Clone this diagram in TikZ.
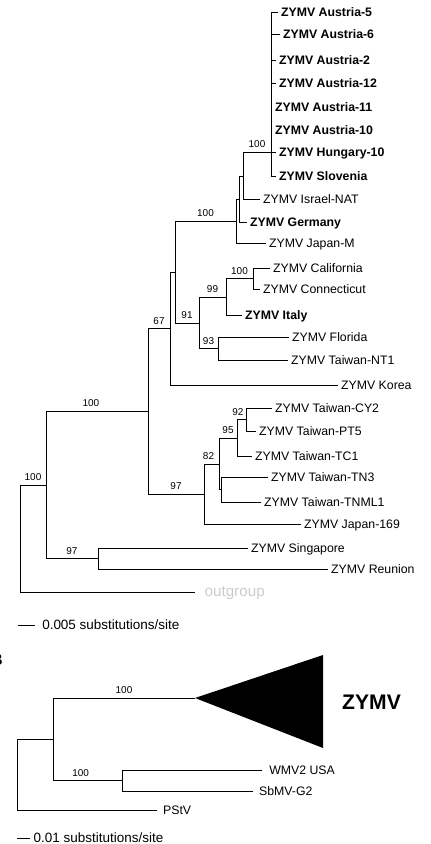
\documentclass[tikz,border=0pt]{standalone}
\usepackage{fontspec}
\setmainfont{Liberation Sans}
\begin{document}
\begin{tikzpicture}[x=0.03cm, y=-0.03cm,
    leaf/.style={anchor=west, inner xsep=2.5pt, inner ysep=0pt, text height=7.6pt, text depth=0pt, font=\fontsize{10.5}{12}\selectfont},
    bleaf/.style={leaf, font=\fontsize{10.5}{12}\selectfont\bfseries},
    outgrp/.style={leaf, inner xsep=8pt, text=gray!40, font=\fontsize{13}{13}\selectfont},
    boot/.style={above, pos=0.75, inner xsep=1pt, inner ysep=3.2pt, font=\fontsize{8.5}{9}\selectfont},
    branch/.style={line width=0.7pt},
    scaletext/.style={anchor=west, inner xsep=6pt, inner ysep=0pt, text height=8.2pt, text depth=0pt, font=\fontsize{11.5}{12}\selectfont}]
    \useasboundingbox (0,0) rectangle (431,844);

    % Leaves (A)
    \node[bleaf] (aus5) at (278,12) {ZYMV Austria-5};
    \node[bleaf] (aus6) at (280,34) {ZYMV Austria-6};
    \node[bleaf] (aus2) at (276,60) {ZYMV Austria-2};
    \node[bleaf] (aus12) at (276,83) {ZYMV Austria-12};
    \node[bleaf] (aus11) at (272,107) {ZYMV Austria-11};
    \node[bleaf] (aus10) at (272,130) {ZYMV Austria-10};
    \node[bleaf] (hun10) at (276,152) {ZYMV Hungary-10};
    \node[bleaf] (slo) at (276,176) {ZYMV Slovenia};
    \node[leaf] (isr) at (260,199) {ZYMV Israel-NAT};
    \node[bleaf] (ger) at (247,222) {ZYMV Germany};
    \node[leaf] (jpm) at (266,243) {ZYMV Japan-M};
    \node[leaf] (cal) at (270,268) {ZYMV California};
    \node[leaf] (con) at (260,289) {ZYMV Connecticut};
    \node[bleaf] (ita) at (242,315) {ZYMV Italy};
    \node[leaf] (flo) at (289,337) {ZYMV Florida};
    \node[leaf] (nt1) at (288,360) {ZYMV Taiwan-NT1};
    \node[leaf] (kor) at (338,385) {ZYMV Korea};
    \node[leaf] (cy2) at (272,408) {ZYMV Taiwan-CY2};
    \node[leaf] (pt5) at (256,431) {ZYMV Taiwan-PT5};
    \node[leaf] (tc1) at (252,456) {ZYMV Taiwan-TC1};
    \node[leaf] (tn3) at (268,477) {ZYMV Taiwan-TN3};
    \node[leaf] (tnml1) at (261,502) {ZYMV Taiwan-TNML1};
    \node[leaf] (jp169) at (301,524) {ZYMV Japan-169};
    \node[leaf] (sin) at (248,548) {ZYMV Singapore};
    \node[leaf] (reu) at (328,569) {ZYMV Reunion};
    \node[outgrp] (out) at (195,592) {outgroup};

    % Inner nodes (A)
    \coordinate (u) at (271,152);
    \coordinate (v) at (243,176);
    \coordinate (w) at (239,199);
    \coordinate (y) at (236,221);
    \coordinate (cc) at (253,278.5);
    \coordinate (n99) at (226,297);
    \coordinate (n93) at (218,348.5);
    \coordinate (n91) at (199,323);
    \coordinate (x) at (175,272);
    \coordinate (n67) at (170,328.5);
    \coordinate (n92) at (246,419.5);
    \coordinate (n95) at (237,438);
    \coordinate (tn) at (221,489.5);
    \coordinate (n82) at (219,464);
    \coordinate (n97a) at (204,494);
    \coordinate (n100b) at (148,411);
    \coordinate (n97b) at (98,558.5);
    \coordinate (n100a) at (46,485);
    \coordinate (root) at (20,538.5);

    % Edges (A)
    \foreach \lf in {aus5,aus6,aus2,aus12,aus11,aus10,hun10,slo}
        \draw[branch] (u) |- (\lf.west);
    \draw[branch] (v) |- node[boot] {100} (u);
    \draw[branch] (v) |- (isr.west);
    \draw[branch] (w) |- (v);
    \draw[branch] (w) |- (ger.west);
    \draw[branch] (y) |- (w);
    \draw[branch] (y) |- (jpm.west);
    \draw[branch] (cc) |- (cal.west);
    \draw[branch] (cc) |- (con.west);
    \draw[branch] (n99) |- node[boot] {100} (cc);
    \draw[branch] (n99) |- (ita.west);
    \draw[branch] (n93) |- (flo.west);
    \draw[branch] (n93) |- (nt1.west);
    \draw[branch] (n91) |- node[boot] {99} (n99);
    \draw[branch] (n91) |- node[boot] {93} (n93);
    \draw[branch] (x) |- node[boot] {100} (y);
    \draw[branch] (x) |- node[boot] {91} (n91);
    \draw[branch] (n67) |- (x);
    \draw[branch] (n67) |- (kor.west);
    \draw[branch] (n92) |- (cy2.west);
    \draw[branch] (n92) |- (pt5.west);
    \draw[branch] (n95) |- node[boot, pos=0.55] {92} (n92);
    \draw[branch] (n95) |- (tc1.west);
    \draw[branch] (tn) |- (tn3.west);
    \draw[branch] (tn) |- (tnml1.west);
    \draw[branch] (n82) |- node[boot] {95} (n95);
    \draw[branch] (n82) |- (tn);
    \draw[branch] (n97a) |- node[boot, pos=0.65] {82} (n82);
    \draw[branch] (n97a) |- (jp169.west);
    \draw[branch] (n100b) |- node[boot] {67} (n67);
    \draw[branch] (n100b) |- node[boot] {97} (n97a);
    \draw[branch] (n97b) |- (sin.west);
    \draw[branch] (n97b) |- (reu.west);
    \draw[branch] (n100a) |- node[boot, pos=0.72] {100} (n100b);
    \draw[branch] (n100a) |- node[boot] {97} (n97b);
    \draw[branch] (root) |- node[boot] {100} (n100a);
    \draw[branch] (root) |- (out.west);

    % Scale bar (A)
    \coordinate (barA) at (18,625);
    \node[scaletext] (scaleA) at (35,625) {0.005 substitutions/site};
    \draw[branch] (barA) -- (scaleA.west);

    % Part B
    \node[anchor=east, inner sep=0pt, font=\fontsize{14}{14}\selectfont\bfseries] (labB) at (3,660) {B};
    \node[leaf, inner xsep=6pt] (wmv) at (262,770) {WMV2 USA};
    \node[leaf, inner xsep=5pt] (sbmv) at (253,791) {SbMV-G2};
    \node[leaf, inner xsep=5pt] (pstv) at (157,810) {PStV};
    \node[anchor=west, inner sep=0pt, font=\fontsize{18}{18}\selectfont\bfseries] (zymv) at (342,702) {ZYMV};
    \coordinate (apex) at (195,698);
    \fill (apex) -- ++(128,-43) -- ++(0,93) -- cycle;
    \coordinate (nw) at (122,780.5);
    \coordinate (nb) at (53,739);
    \coordinate (rootb) at (17,774.5);
    \draw[branch] (nw) |- (wmv.west);
    \draw[branch] (nw) |- (sbmv.west);
    \draw[branch] (nb) |- node[boot] {100} (apex);
    \draw[branch] (nb) |- node[boot, pos=0.7] {100} (nw);
    \draw[branch] (rootb) |- (nb);
    \draw[branch] (rootb) |- (pstv.west);

    % Scale bar (B)
    \coordinate (barB) at (17,838);
    \node[scaletext, inner xsep=3pt] (scaleB) at (30,838) {0.01 substitutions/site};
    \draw[branch] (barB) -- (scaleB.west);
\end{tikzpicture}
\end{document}
